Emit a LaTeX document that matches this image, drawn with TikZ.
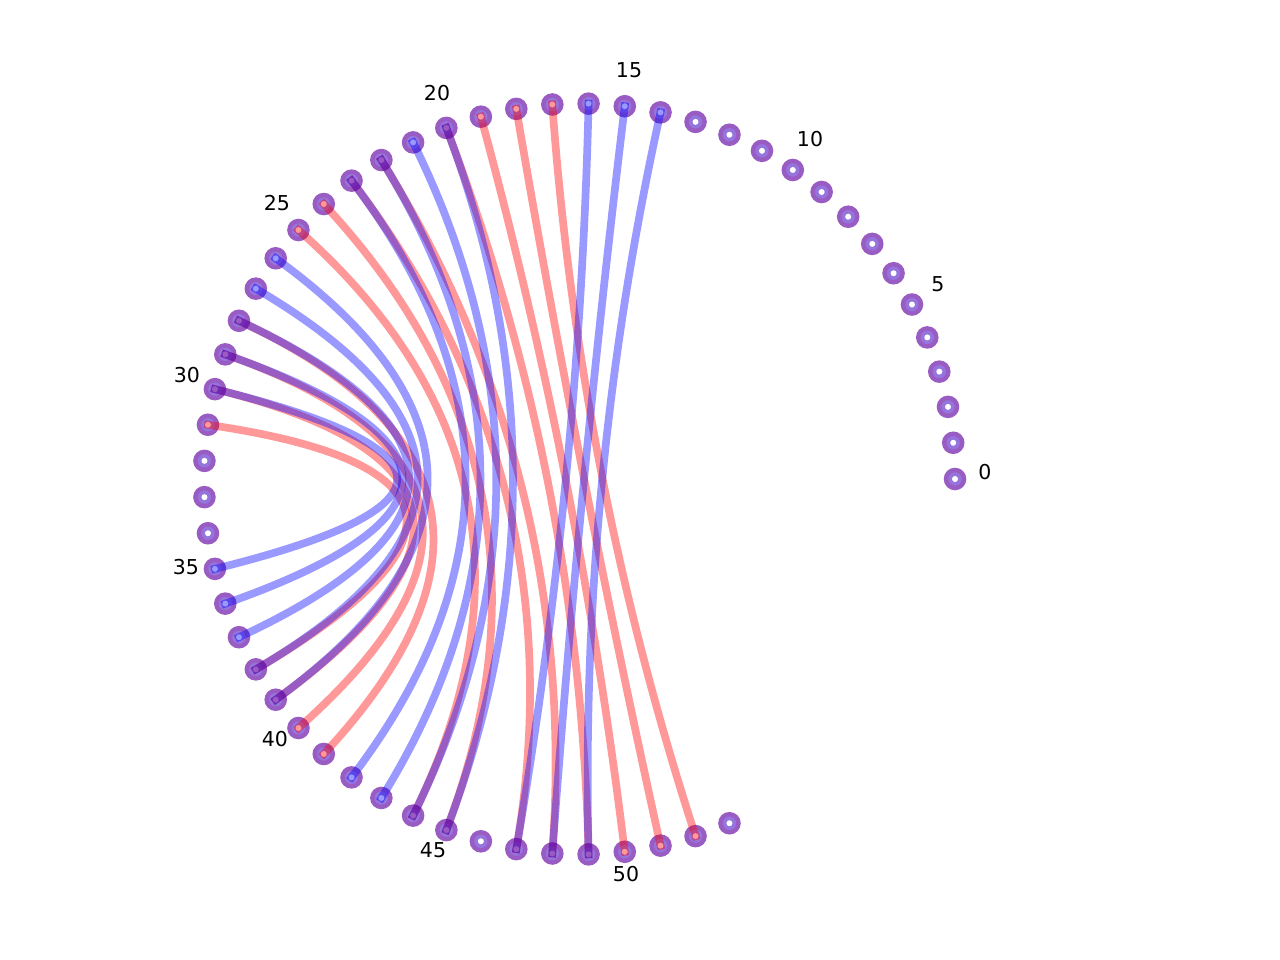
\documentclass[tikz,border=0pt]{standalone}
\usepackage{fontspec}
\setmainfont{DejaVu Sans}
\usetikzlibrary{calc}
\definecolor{ringc}{RGB}{153,92,194}
\definecolor{innerc}{RGB}{150,116,222}
\tikzset{
  marker/.style={circle, fill=ringc, minimum size=22.6pt, inner sep=0pt, draw=none},
  redlink/.style={draw=red, opacity=0.4, line width=7.7pt, line cap=rect},
  bluelink/.style={draw=blue, opacity=0.4, line width=7.7pt, line cap=rect},
  idx/.style={font=\fontsize{20.5}{24}\selectfont, inner sep=0pt},
}
\newcommand\qlink[3]{\draw[#1] (n#2.center) .. controls ($(n#2.center)!2/3!(c)$) and ($(n#3.center)!2/3!(c)$) .. (n#3.center);}
\begin{document}
\begin{tikzpicture}[x=1pt,y=-1pt]
\useasboundingbox (0,0) rectangle (1280,960);
\coordinate (c) at (579.5,479);
\foreach \i in {0,...,53} {
  \pgfmathsetmacro\ang{\i*5.5384615}
  \node[marker] (n\i) at ({579.5+375.5*cos(\ang)},{479-375.5*sin(\ang)}) {};
  \fill[innerc] (n\i.center) circle (6.7pt);
  \fill[white] (n\i.center) circle (3pt);
}
\foreach \a/\b in {17/52,18/51,19/50,20/49,22/48,23/47,24/45,25/44,28/41,29/40,30/39,31/38}
  {\qlink{redlink}{\a}{\b}}
\foreach \a/\b in {14/49,15/48,16/47,20/45,21/44,22/43,23/42,26/39,27/38,28/37,29/36,30/35}
  {\qlink{bluelink}{\a}{\b}}
\node[idx] (l0) at (985,472) {0};
\node[idx] (l5) at (938,284) {5};
\node[idx] (l10) at (810,139) {10};
\node[idx] (l15) at (629,70) {15};
\node[idx] (l20) at (437,93) {20};
\node[idx] (l25) at (277,203) {25};
\node[idx] (l30) at (187,375) {30};
\node[idx] (l35) at (186,567) {35};
\node[idx] (l40) at (275,739) {40};
\node[idx] (l45) at (433,850) {45};
\node[idx] (l50) at (626,874) {50};
\end{tikzpicture}
\end{document}
